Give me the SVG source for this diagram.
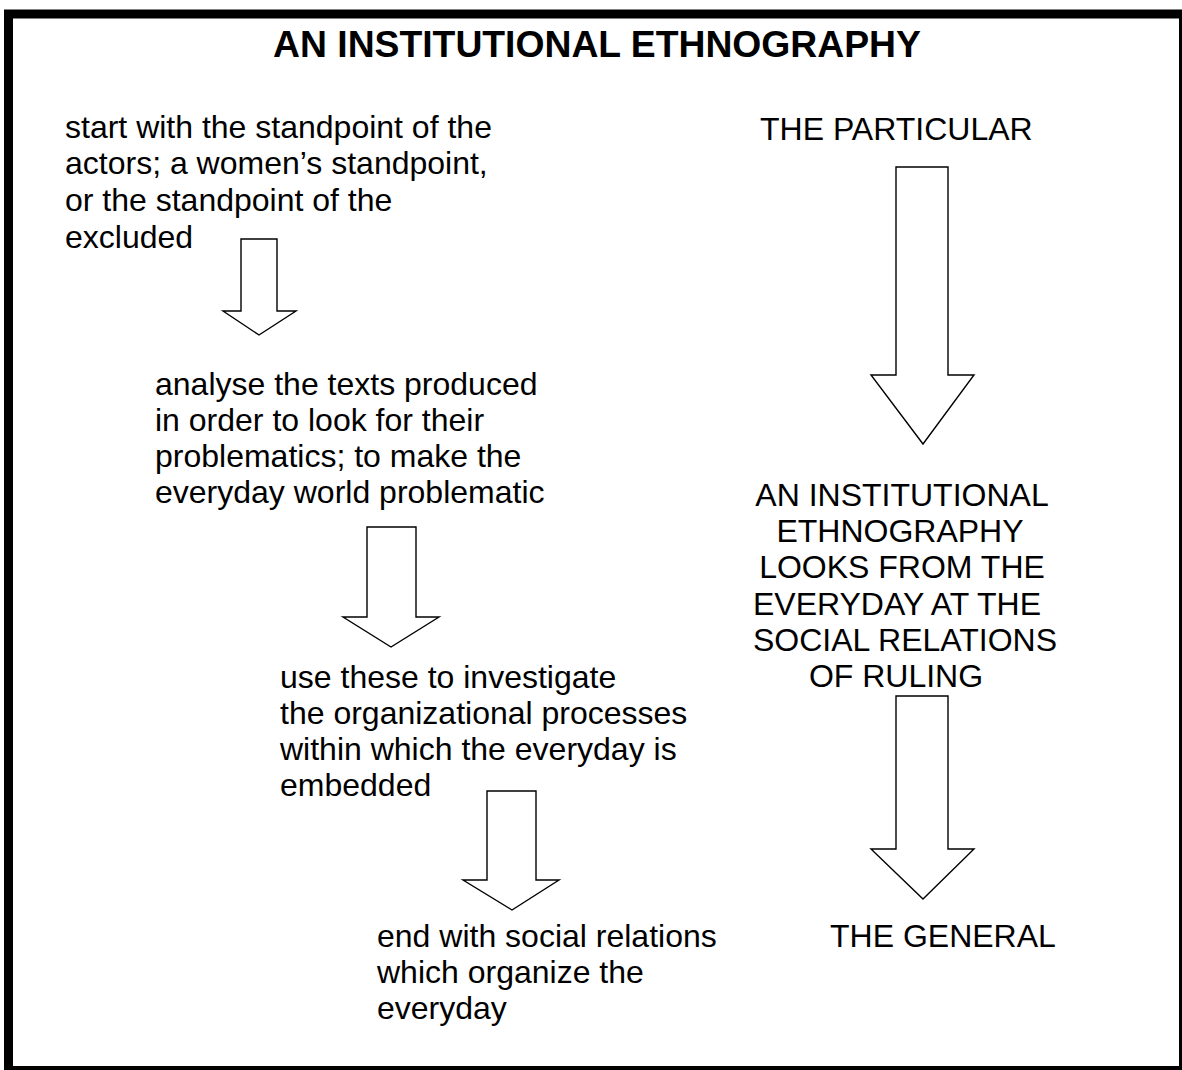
<svg xmlns="http://www.w3.org/2000/svg" width="1182" height="1070" viewBox="0 0 1182 1070">
<style>
text{font-family:"Liberation Sans",Arial,sans-serif;font-size:32px;fill:#000}
.title{font-weight:bold;font-size:37.3px}
.c{text-anchor:middle}
.arrow{fill:#fff;stroke:#000;stroke-width:1.4;stroke-linejoin:miter}
</style>
<rect x="0" y="0" width="1182" height="1070" fill="#fff"/>
<rect x="8.5" y="14" width="1175" height="1056.5" fill="none" stroke="#000" stroke-width="9"/>
<g id="title"><text class="title c" x="597" y="57">AN INSTITUTIONAL ETHNOGRAPHY</text></g>
<g id="step1">
<text x="65" y="138">start with the standpoint of the</text>
<text x="65" y="174">actors; a women’s standpoint,</text>
<text x="65" y="211">or the standpoint of the</text>
<text x="65" y="248">excluded</text>
</g>
<g id="step2">
<text x="155" y="395">analyse the texts produced</text>
<text x="155" y="431">in order to look for their</text>
<text x="155" y="467">problematics; to make the</text>
<text x="155" y="503">everyday world problematic</text>
</g>
<g id="step3">
<text x="280" y="688">use these to investigate</text>
<text x="280" y="724">the organizational processes</text>
<text x="280" y="760">within which the everyday is</text>
<text x="280" y="796">embedded</text>
</g>
<g id="step4">
<text x="377" y="947">end with social relations</text>
<text x="377" y="983">which organize the</text>
<text x="377" y="1019">everyday</text>
</g>
<g id="particular"><text x="760" y="140">THE PARTICULAR</text></g>
<g id="middle">
<text class="c" x="902" y="506">AN INSTITUTIONAL</text>
<text class="c" x="900" y="542">ETHNOGRAPHY</text>
<text class="c" x="902" y="578">LOOKS FROM THE</text>
<text class="c" x="897" y="615">EVERYDAY AT THE</text>
<text class="c" x="905" y="651">SOCIAL RELATIONS</text>
<text class="c" x="896" y="687">OF RULING</text>
</g>
<g id="general"><text x="830" y="947">THE GENERAL</text></g>
<g id="connectors">
<polygon class="arrow" points="241,239 277,239 277,311 296,311 259,335 223,311 241,311"/>
<polygon class="arrow" points="367,527 416,527 416,617 439,617 391,647 343,617 367,617"/>
<polygon class="arrow" points="487,791 536,791 536,880 559,880 512,910 463,880 487,880"/>
<polygon class="arrow" points="896,167 948,167 948,375 974,375 923,444 871,375 896,375"/>
<polygon class="arrow" points="896,696 948,696 948,849 974,849 923,899 871,849 896,849"/>
</g>
</svg>
